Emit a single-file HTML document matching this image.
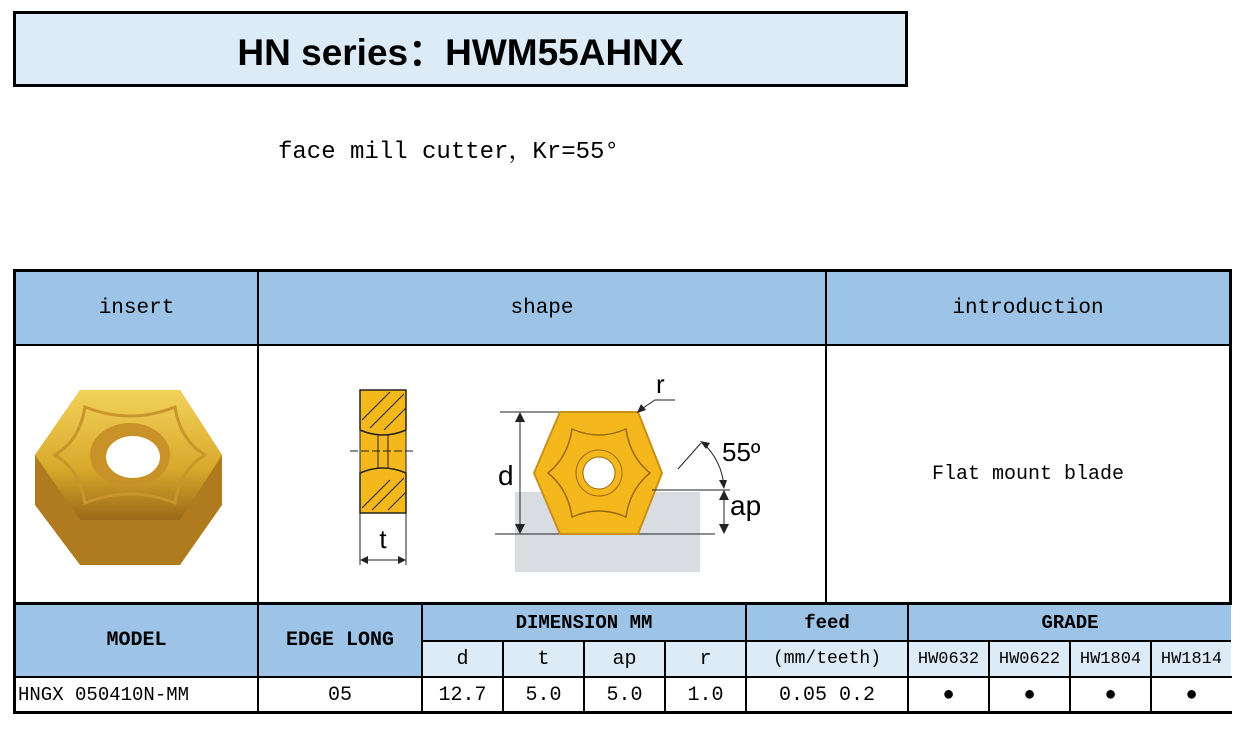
<!DOCTYPE html>
<html><head><meta charset="utf-8"><style>
body{margin:0;width:1245px;height:742px;background:#fff;position:relative;overflow:hidden;font-family:"Liberation Mono","Noto Serif CJK SC",monospace}
.a{position:absolute;box-sizing:border-box;display:flex;align-items:center;justify-content:center;color:#000}
.h{background:#9dc3e6}.l{background:#ddebf7}
.b{border:1px solid #000}
</style></head><body>
<div class="a" style="left:13px;top:11px;width:895px;height:76px;border:3px solid #000;background:#ddebf7;font-family:'Liberation Sans',sans-serif;font-weight:bold;font-size:37px">HN series：HWM55AHNX</div>
<div style="position:absolute;left:278px;top:130px;font-size:24px">face mill cutter，Kr=55°</div>

<div style="position:absolute;left:13px;top:269px;width:1219px;height:445px;border:3px solid #000;box-sizing:border-box;border-right:none"></div>
<div style="position:absolute;left:1229px;top:269px;width:3px;height:335px;background:#000"></div>
<div class="a h" style="left:16px;top:272px;width:241px;height:73px;font-size:21px">insert</div>
<div class="a h" style="left:259px;top:272px;width:566px;height:73px;font-size:21px">shape</div>
<div class="a h" style="left:827px;top:272px;width:402px;height:73px;font-size:21px">introduction</div>
<div style="position:absolute;left:257px;top:272px;width:2px;height:331px;background:#000"></div>
<div style="position:absolute;left:825px;top:272px;width:2px;height:331px;background:#000"></div>
<div style="position:absolute;left:16px;top:344px;width:1213px;height:2px;background:#000"></div>
<div style="position:absolute;left:16px;top:602px;width:1216px;height:3px;background:#000"></div>
<div class="a" style="left:827px;top:346px;width:402px;height:256px;font-size:20px">Flat mount blade</div>

<svg style="position:absolute;left:30px;top:385px" width="195" height="185" viewBox="0 0 195 185">
<defs><linearGradient id="g" x1="0" y1="0" x2="0" y2="1"><stop offset="0" stop-color="#f2d25a"/><stop offset="0.6" stop-color="#d9a92c"/><stop offset="1" stop-color="#9a6a18"/></linearGradient></defs>
<polygon points="50,5 150,5 192,70 192,120 150,180 50,180 5,120 5,70" fill="#b07a1e"/>
<polygon points="50,5 150,5 192,70 150,135 50,135 5,70" fill="url(#g)"/>
<path d="M55,22 Q100,40 145,22 Q150,55 175,70 Q150,85 145,118 Q100,100 55,118 Q50,85 25,70 Q50,55 55,22Z" fill="none" stroke="#c8962a" stroke-width="3"/>
<ellipse cx="100" cy="70" rx="40" ry="32" fill="#c89228"/>
<ellipse cx="103" cy="72" rx="27" ry="21" fill="#fff"/>
</svg>

<svg style="position:absolute;left:340px;top:380px" width="90" height="200">
<rect x="20" y="10" width="46" height="123" fill="#f5b81c" stroke="#222"/>
<path d="M20,10 H66 V50 Q43,60 20,50Z" fill="#f5b81c" stroke="#222" stroke-width="1.5"/>
<path d="M20,133 H66 V93 Q43,83 20,93Z" fill="#f5b81c" stroke="#222" stroke-width="1.5"/>
<g stroke="#222" stroke-width="1"><line x1="22" y1="40" x2="50" y2="12"/><line x1="30" y1="48" x2="64" y2="14"/><line x1="44" y1="50" x2="66" y2="28"/><line x1="22" y1="128" x2="50" y2="100"/><line x1="32" y1="130" x2="64" y2="98"/><line x1="48" y1="130" x2="66" y2="112"/>
<line x1="38" y1="55" x2="38" y2="88"/><line x1="48" y1="55" x2="48" y2="88"/>
<line x1="10" y1="71" x2="76" y2="71" stroke-dasharray="8,3"/>
<line x1="20" y1="133" x2="20" y2="185"/><line x1="66" y1="133" x2="66" y2="185"/>
<line x1="22" y1="180" x2="64" y2="180"/></g>
<path d="M20,180 l8,-4 v8z M66,180 l-8,-4 v8z" fill="#222"/>
<text x="43" y="168" font-family="Liberation Sans" font-size="26" text-anchor="middle">t</text>
</svg>

<svg style="position:absolute;left:490px;top:365px" width="290" height="215">
<rect x="25" y="127" width="185" height="80" fill="#d9dce0"/>
<line x1="5" y1="169" x2="225" y2="169" stroke="#222"/>
<line x1="10" y1="47" x2="70" y2="47" stroke="#222"/>
<line x1="30" y1="49" x2="30" y2="167" stroke="#222"/><path d="M30,47 l-5,10 h10z M30,169 l-5,-10 h10z" fill="#222"/>
<text x="8" y="120" font-family="Liberation Sans" font-size="28">d</text>
<polygon points="70,47 148,47 172,108 148,169 70,169 44,108" fill="#f5b81c" stroke="#c8901a" stroke-width="2" stroke-linejoin="round"/>
<path d="M82,64 Q109,76 136,64 Q140,92 160,108 Q140,124 136,152 Q109,140 82,152 Q78,124 58,108 Q78,92 82,64Z" fill="none" stroke="#9a6a10" stroke-width="1.5"/>
<circle cx="109" cy="108" r="23" fill="#f5b81c" stroke="#9a6a10"/>
<circle cx="109" cy="108" r="16" fill="#fff" stroke="#9a6a10"/>
<line x1="162" y1="125" x2="240" y2="125" stroke="#222"/>
<line x1="234" y1="127" x2="234" y2="167" stroke="#222"/><path d="M234,125 l-5,10 h10z M234,169 l-5,-10 h10z" fill="#222"/>
<text x="240" y="150" font-family="Liberation Sans" font-size="28">ap</text>
<line x1="188" y1="104" x2="211" y2="78" stroke="#222"/>
<path d="M213,78 Q232,96 234,122" fill="none" stroke="#222"/>
<path d="M210,76 l10,2 -4,6z M234,124 l-5,-9 h8z" fill="#222"/>
<text x="232" y="96" font-family="Liberation Sans" font-size="26">55º</text>
<text x="166" y="28" font-family="Liberation Sans" font-size="26">r</text>
<path d="M185,35 H165 L150,45" fill="none" stroke="#222"/><path d="M147,48 l4,-9 5,6z" fill="#222"/>
</svg>

<div class="a h" style="left:16px;top:605px;width:241px;height:71px;font-size:20px;font-weight:bold">MODEL</div>
<div class="a h" style="left:259px;top:605px;width:162px;height:71px;font-size:20px;font-weight:bold">EDGE LONG</div>
<div class="a h" style="left:423px;top:605px;width:322px;height:35px;font-size:19px;font-weight:bold">DIMENSION MM</div>
<div class="a h" style="left:747px;top:605px;width:160px;height:35px;font-size:19px;font-weight:bold">feed</div>
<div class="a h" style="left:909px;top:605px;width:322px;height:35px;font-size:19px;font-weight:bold">GRADE</div>
<div style="position:absolute;left:421px;top:640px;width:810px;height:2px;background:#000"></div>
<div class="a l" style="left:423px;top:642px;width:79px;height:34px;font-size:20px">d</div>
<div class="a l" style="left:504px;top:642px;width:79px;height:34px;font-size:20px">t</div>
<div class="a l" style="left:585px;top:642px;width:79px;height:34px;font-size:20px">ap</div>
<div class="a l" style="left:666px;top:642px;width:79px;height:34px;font-size:20px">r</div>
<div class="a l" style="left:747px;top:642px;width:160px;height:34px;font-size:18px">(mm/teeth)</div>
<div class="a l" style="left:909px;top:642px;width:79px;height:34px;font-size:17px">HW0632</div>
<div class="a l" style="left:990px;top:642px;width:79px;height:34px;font-size:17px">HW0622</div>
<div class="a l" style="left:1071px;top:642px;width:79px;height:34px;font-size:17px">HW1804</div>
<div class="a l" style="left:1152px;top:642px;width:79px;height:34px;font-size:17px">HW1814</div>
<div style="position:absolute;left:16px;top:676px;width:1216px;height:2px;background:#000"></div>
<div style="position:absolute;left:257px;top:605px;width:2px;height:108px;background:#000"></div>
<div style="position:absolute;left:421px;top:605px;width:2px;height:108px;background:#000"></div>
<div style="position:absolute;left:502px;top:640px;width:2px;height:73px;background:#000"></div>
<div style="position:absolute;left:583px;top:640px;width:2px;height:73px;background:#000"></div>
<div style="position:absolute;left:664px;top:640px;width:2px;height:73px;background:#000"></div>
<div style="position:absolute;left:745px;top:605px;width:2px;height:108px;background:#000"></div>
<div style="position:absolute;left:907px;top:605px;width:2px;height:108px;background:#000"></div>
<div style="position:absolute;left:988px;top:640px;width:2px;height:73px;background:#000"></div>
<div style="position:absolute;left:1069px;top:640px;width:2px;height:73px;background:#000"></div>
<div style="position:absolute;left:1150px;top:640px;width:2px;height:73px;background:#000"></div>
<div class="a" style="left:18px;top:678px;width:239px;height:34px;font-size:19px;justify-content:flex-start">HNGX 050410N-MM</div>
<div class="a" style="left:259px;top:678px;width:162px;height:34px;font-size:20px">05</div>
<div class="a" style="left:423px;top:678px;width:79px;height:34px;font-size:20px">12.7</div>
<div class="a" style="left:504px;top:678px;width:79px;height:34px;font-size:20px">5.0</div>
<div class="a" style="left:585px;top:678px;width:79px;height:34px;font-size:20px">5.0</div>
<div class="a" style="left:666px;top:678px;width:79px;height:34px;font-size:20px">1.0</div>
<div class="a" style="left:747px;top:678px;width:160px;height:34px;font-size:20px">0.05 0.2</div>
<div class="a" style="left:909px;top:678px;width:79px;height:34px;font-size:20px">●</div>
<div class="a" style="left:990px;top:678px;width:79px;height:34px;font-size:20px">●</div>
<div class="a" style="left:1071px;top:678px;width:79px;height:34px;font-size:20px">●</div>
<div class="a" style="left:1152px;top:678px;width:79px;height:34px;font-size:20px">●</div>
</body></html>
